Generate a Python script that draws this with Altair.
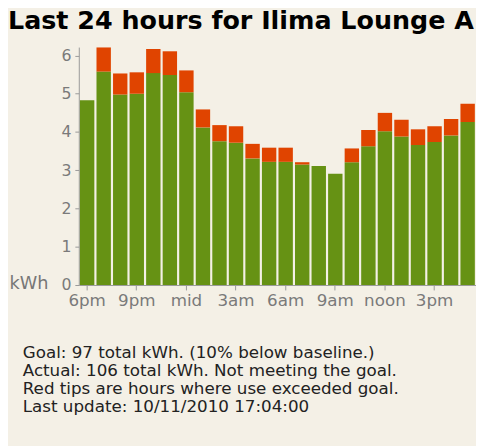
import altair as alt
import pandas as pd

hours = ["6pm", "7pm", "8pm", "9pm", "10pm", "11pm", "mid", "1am", "2am", "3am",
         "4am", "5am", "6am", "7am", "8am", "9am", "10am", "11am", "noon", "1pm",
         "2pm", "3pm", "4pm", "5pm"]
within_goal = [4.83, 5.58, 4.98, 5.00, 5.54, 5.49, 5.04, 4.12, 3.76, 3.72, 3.31, 3.22,
               3.22, 3.15, 3.11, 2.91, 3.21, 3.63, 4.02, 3.88, 3.66, 3.74, 3.91, 4.26]
actual = [4.83, 6.21, 5.53, 5.56, 6.17, 6.11, 5.61, 4.59, 4.18, 4.15, 3.69, 3.59,
          3.59, 3.21, 3.11, 2.91, 3.57, 4.05, 4.50, 4.32, 4.07, 4.15, 4.34, 4.74]
tick_hours = ["6pm", "9pm", "mid", "3am", "6am", "9am", "noon", "3pm"]
y_ticks = [0, 1, 2, 3, 4, 5, 6]
notes = [
    "Goal: 97 total kWh. (10% below baseline.)",
    "Actual: 106 total kWh. Not meeting the goal.",
    "Red tips are hours where use exceeded goal.",
    "Last update: 10/11/2010 17:04:00",
]
title_text = "Last 24 hours for Ilima Lounge A"

GREEN = "#669214"
RED = "#E04400"
BG = "#F4F0E6"
FONT = "DejaVu Sans"

df = pd.DataFrame({"hour": hours, "green": within_goal, "actual": actual})

x_enc = alt.X(
    "hour:N",
    sort=hours,
    scale=alt.Scale(paddingInner=0.13, paddingOuter=0.07),
    axis=alt.Axis(values=tick_hours, labelAngle=0, title=None, labelFontSize=17,
                  tickSize=5, labelPadding=3),
)
y_scale = alt.Scale(domain=[0, 6.22], nice=False)

green = alt.Chart(df).mark_bar(color=GREEN).encode(
    x=x_enc,
    y=alt.Y("green:Q", scale=y_scale,
            axis=alt.Axis(values=y_ticks, title="kWh", titleAngle=0, titleAlign="left",
                          titleBaseline="alphabetic", titleX=-71, titleY=246,
                          titleFontSize=18, titleFontWeight="normal", titleColor="#777777",
                          titleFont=FONT, labelFontSize=16, tickSize=4, labelPadding=4)),
)
red = alt.Chart(df).transform_filter("datum.actual > datum.green").mark_bar(color=RED).encode(
    x=x_enc,
    y=alt.Y("green:Q", scale=y_scale),
    y2="actual:Q",
)
text = alt.Chart(alt.Data(values=[{}])).mark_text(
    text=notes, align="left", baseline="alphabetic", lineHeight=18.5,
    fontSize=17, font=FONT, color="#222222",
).encode(x=alt.value(-57), y=alt.value(316))

chart = alt.layer(green, red, text).properties(
    width=404,
    height=242,
    padding={"left": 72, "top": 36, "right": 0, "bottom": 160},
    autosize="none",
    background=BG,
    title=alt.Title(title_text, anchor="start", frame="group", dx=-72, dy=24, offset=17,
                    fontSize=25.8, font=FONT, fontWeight="bold", color="#000000",
                    baseline="alphabetic"),
).configure_view(stroke=None).configure_axis(
    grid=False, labelFont=FONT, labelColor="#7a7a7a", domainColor="#999999",
    tickColor="#999999", domainWidth=1, tickWidth=1,
)

chart.save("out.html", embed_options={"renderer": "svg", "actions": False})
